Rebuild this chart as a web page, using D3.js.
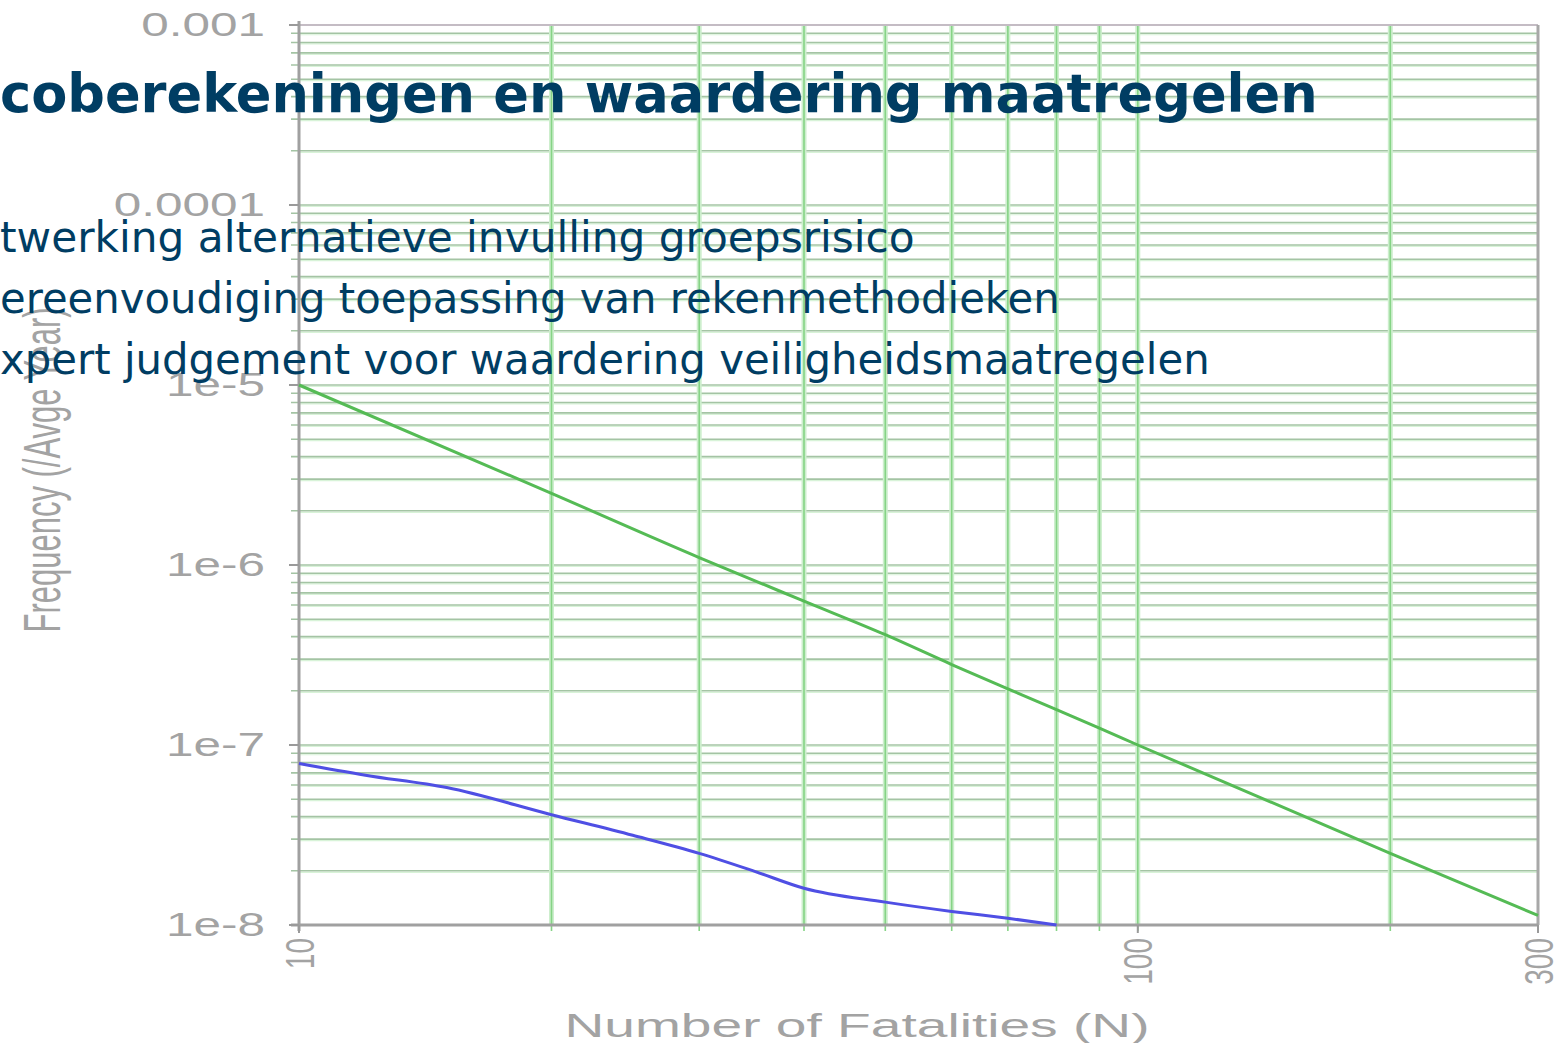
<!DOCTYPE html>
<html>
<head>
<meta charset="utf-8">
<script src="https://cdn.jsdelivr.net/npm/d3@7/dist/d3.min.js"></script>
<style>
  html, body { margin: 0; padding: 0; background: #ffffff; }
  svg { display: block; }
</style>
</head>
<body>
<svg id="chart" width="1566" height="1043"></svg>
<script>
// ---------------- data ----------------
const xTickValues = [10, 100, 300];
const xTickLabels = ["10", "100", "300"];
const yTickValues = [1e-8, 1e-7, 1e-6, 1e-5, 1e-4, 1e-3];
const yTickLabels = ["1e-8", "1e-7", "1e-6", "1e-5", "0.0001", "0.001"];
const xGridValues = [20, 30, 40, 50, 60, 70, 80, 90, 100, 200];
const yGridMultipliers = [1, 2, 3, 4, 5, 6, 7, 8, 9];
const yGridDecades = [1e-8, 1e-7, 1e-6, 1e-5, 1e-4];

const greenN = [10, 20, 30, 40, 50, 60, 70, 80, 90, 100, 200, 300];
const greenF = [1e-5, 2.5e-6, 1.1e-6, 6.3e-7, 4.1e-7, 2.8e-7, 2.05e-7, 1.57e-7, 1.24e-7, 1.0e-7, 2.5e-8, 1.13e-8];

const blueN = [10, 12, 15, 20, 25, 30, 35, 40, 50, 60, 70, 80];
const blueF = [7.9e-8, 6.8e-8, 5.8e-8, 4.1e-8, 3.15e-8, 2.5e-8, 1.98e-8, 1.6e-8, 1.34e-8, 1.19e-8, 1.09e-8, 1.0e-8];

const xTitle = "Number of Fatalities (N)";
const yTitle = "Frequency (/Avge Year)";

const slideTitle = "coberekeningen en waardering maatregelen";
const slideLines = [
  "twerking alternatieve invulling groepsrisico",
  "ereenvoudiging toepassing van rekenmethodieken",
  "xpert judgement voor waardering veiligheidsmaatregelen"
];

// ---------------- layout ----------------
const svg = d3.select("#chart");
const W = 1566, H = 1043;
const plot = { left: 299, right: 1538, top: 25, bottom: 925 };

svg.append("rect").attr("width", W).attr("height", H).attr("fill", "#ffffff");

const x = d3.scaleLog().domain([10, 300]).range([plot.left, plot.right]);
const y = d3.scaleLog().domain([1e-8, 1e-3]).range([plot.bottom, plot.top]);

const gray = "#a3a3a3";
const chartFont = "'Liberation Sans', Arial, sans-serif";

// horizontal gridlines
const yGrid = [];
yGridDecades.forEach(d => yGridMultipliers.forEach(m => yGrid.push(d * m)));
yGrid.push(1e-3);
const innerY = yGrid.filter(v => v > 1e-8 && v < 1e-3);

const gGrid = svg.append("g");
gGrid.selectAll("line.hg2")
  .data(innerY)
  .join("line")
  .attr("x1", plot.left).attr("x2", plot.right)
  .attr("y1", d => y(d) + 1.5).attr("y2", d => y(d) + 1.5)
  .attr("stroke", "#d8f3d8").attr("stroke-width", 1.2);
gGrid.selectAll("line.hg")
  .data(innerY)
  .join("line")
  .attr("x1", plot.left - 8).attr("x2", plot.right)
  .attr("y1", d => y(d)).attr("y2", d => y(d))
  .attr("stroke", "#a4c4a4").attr("stroke-width", 1.6);

// vertical gridlines (halo + line)
gGrid.selectAll("line.vh")
  .data(xGridValues)
  .join("line")
  .attr("x1", d => x(d)).attr("x2", d => x(d))
  .attr("y1", plot.top).attr("y2", plot.bottom)
  .attr("stroke", "#cdeecd").attr("stroke-width", 5);
gGrid.selectAll("line.vg")
  .data(xGridValues)
  .join("line")
  .attr("x1", d => x(d)).attr("x2", d => x(d))
  .attr("y1", plot.top).attr("y2", plot.bottom + 6)
  .attr("stroke", "#86d486").attr("stroke-width", 1.6);

// borders / axes
svg.append("line").attr("x1", plot.left).attr("x2", plot.right)
  .attr("y1", plot.top).attr("y2", plot.top)
  .attr("stroke", "#c4bcc4").attr("stroke-width", 2);
svg.append("line").attr("x1", plot.right).attr("x2", plot.right)
  .attr("y1", plot.top).attr("y2", plot.bottom)
  .attr("stroke", "#a8a8a8").attr("stroke-width", 3);
svg.append("line").attr("x1", plot.left).attr("x2", plot.left)
  .attr("y1", plot.top - 4).attr("y2", plot.bottom + 6)
  .attr("stroke", "#a0a0a0").attr("stroke-width", 3);
svg.append("line").attr("x1", plot.left - 8).attr("x2", plot.right)
  .attr("y1", plot.bottom).attr("y2", plot.bottom)
  .attr("stroke", "#a0a0a0").attr("stroke-width", 3);
svg.selectAll("line.ytk").data(yTickValues).join("line")
  .attr("x1", plot.left - 10).attr("x2", plot.left)
  .attr("y1", d => y(d)).attr("y2", d => y(d))
  .attr("stroke", "#9a9a9a").attr("stroke-width", 2);
svg.selectAll("line.xtk").data(xTickValues).join("line")
  .attr("x1", d => x(d)).attr("x2", d => x(d))
  .attr("y1", plot.bottom).attr("y2", plot.bottom + 8)
  .attr("stroke", "#9a9a9a").attr("stroke-width", 2);

// series lines
const line = d3.line().curve(d3.curveMonotoneX).x(d => x(d[0])).y(d => y(d[1]));
svg.append("path")
  .datum(greenN.map((n, i) => [n, greenF[i]]))
  .attr("d", line).attr("fill", "none")
  .attr("stroke", "#55bb55").attr("stroke-width", 3);
svg.append("path")
  .datum(blueN.map((n, i) => [n, blueF[i]]))
  .attr("d", line).attr("fill", "none")
  .attr("stroke", "#4f4fe4").attr("stroke-width", 3);

// y tick labels (horizontally stretched)
svg.selectAll("text.ytl").data(yTickValues).join("text")
  .attr("transform", d => `translate(265,${y(d)}) scale(1.5,1)`)
  .attr("text-anchor", "end")
  .attr("dominant-baseline", "central")
  .attr("font-family", chartFont).attr("font-size", 33)
  .attr("fill", gray)
  .text((d, i) => yTickLabels[i]);

// x tick labels rotated
svg.selectAll("text.xtl").data(xTickValues).join("text")
  .attr("transform", d => `translate(${x(d)},938) rotate(-90) scale(1,1.45)`)
  .attr("text-anchor", "end")
  .attr("dominant-baseline", "central")
  .attr("font-family", chartFont).attr("font-size", 28)
  .attr("fill", gray)
  .text((d, i) => xTickLabels[i]);

// axis titles
svg.append("text")
  .attr("x", 857).attr("y", 1037)
  .attr("text-anchor", "middle")
  .attr("font-family", chartFont).attr("font-size", 33)
  .attr("textLength", 585).attr("lengthAdjust", "spacingAndGlyphs")
  .attr("fill", gray)
  .text(xTitle);
svg.append("text")
  .attr("transform", "translate(60,470) rotate(-90) scale(1,1.65)")
  .attr("text-anchor", "middle")
  .attr("font-family", chartFont).attr("font-size", 31)
  .attr("fill", gray)
  .text(yTitle);

// slide text overlay
const slideFont = "'DejaVu Sans', Verdana, sans-serif";
const slideColor = "#003d63";
function fitText(sel, target) {
  const base = +sel.attr("font-size");
  const w = sel.node().getComputedTextLength();
  sel.attr("font-size", base * target / w);
}
const t = svg.append("text")
  .attr("x", 0).attr("y", 112)
  .attr("font-family", slideFont).attr("font-weight", "bold")
  .attr("font-size", 52).attr("fill", slideColor)
  .text(slideTitle);
fitText(t, 1318);

const lineBaselines = [252, 313, 374];
const lineWidths = [915, 1060, 1210];
slideLines.forEach((s, i) => {
  const tt = svg.append("text")
    .attr("x", 0).attr("y", lineBaselines[i])
    .attr("font-family", slideFont)
    .attr("font-size", 40).attr("fill", slideColor)
    .text(s);
  fitText(tt, lineWidths[i]);
});
</script>
</body>
</html>
